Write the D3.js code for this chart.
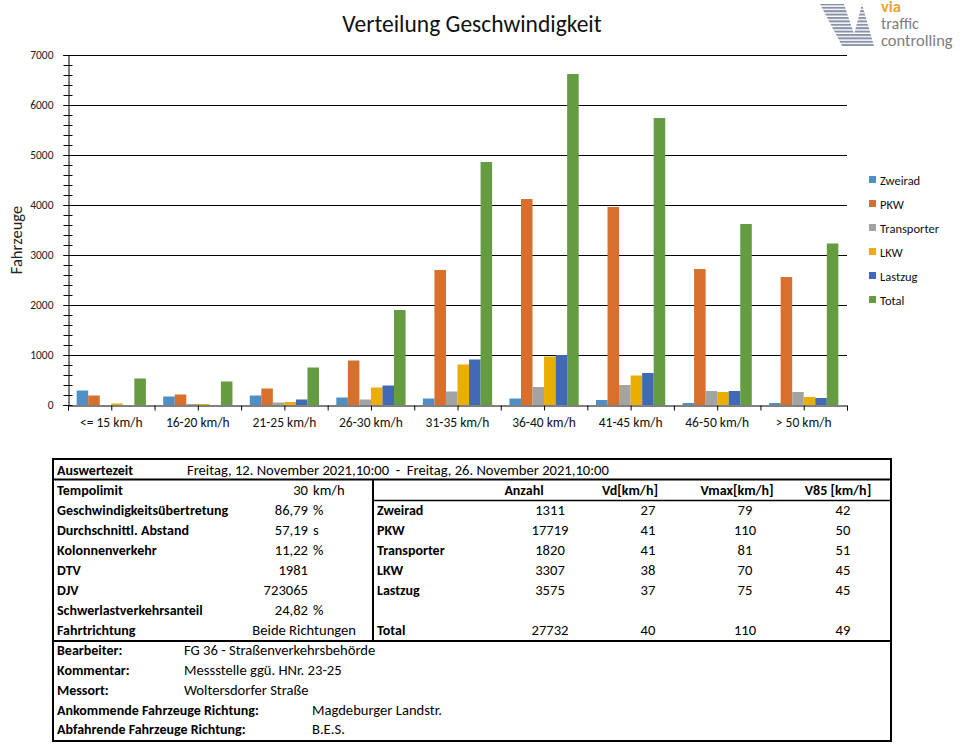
<!DOCTYPE html>
<html><head><meta charset="utf-8">
<script src="https://cdn.jsdelivr.net/npm/d3@7/dist/d3.min.js"></script>
<style>
body{margin:0;background:#fff}
svg text{font-family:Carlito,Lato,"Noto Sans",sans-serif;white-space:pre}
</style>
</head><body>
<svg id="c" width="968" height="749"></svg>
<script>
// ---------------- DATA ----------------
const categories = ["<= 15 km/h","16-20 km/h","21-25 km/h","26-30 km/h","31-35 km/h","36-40 km/h","41-45 km/h","46-50 km/h","> 50 km/h"];
const seriesNames = ["Zweirad","PKW","Transporter","LKW","Lastzug","Total"];
const zweirad     = [290,170,190,150,130,130,100,40,40];
const pkw         = [190,210,330,890,2700,4120,3960,2720,2560];
const transporter = [0,20,50,110,270,360,400,280,260];
const lkw         = [30,20,60,350,810,970,590,260,160];
const lastzug     = [0,0,110,390,910,1000,640,280,140];
const total       = [530,470,750,1900,4860,6620,5740,3620,3230];
const yTickValues = [0,1000,2000,3000,4000,5000,6000,7000];
const seriesColors = ["#4f8fc6","#d8702d","#a3a3a3","#e9ae00","#4169b6","#659c41"];

const chartTitle = "Verteilung Geschwindigkeit";
const yAxisTitle = "Fahrzeuge";

const periodLabel = "Auswertezeit";
const periodText = "Freitag, 12. November 2021,10:00  -  Freitag, 26. November 2021,10:00";
const infoLabels = ["Tempolimit","Geschwindigkeitsübertretung","Durchschnittl. Abstand","Kolonnenverkehr","DTV","DJV","Schwerlastverkehrsanteil","Fahrtrichtung"];
const infoValues = ["30","86,79","57,19","11,22","1981","723065","24,82","Beide Richtungen"];
const infoUnits  = ["km/h","%","s","%","","","%",""];
const statHeaders = ["Anzahl","Vd[km/h]","Vmax[km/h]","V85 [km/h]"];
const statRows   = ["Zweirad","PKW","Transporter","LKW","Lastzug","","Total"];
const statAnzahl = ["1311","17719","1820","3307","3575","","27732"];
const statVd     = ["27","41","41","38","37","","40"];
const statVmax   = ["79","110","81","70","75","","110"];
const statV85    = ["42","50","51","45","45","","49"];
const footLabels = ["Bearbeiter:","Kommentar:","Messort:","Ankommende Fahrzeuge Richtung:","Abfahrende Fahrzeuge Richtung:"];
const footValues = ["FG 36 - Straßenverkehrsbehörde","Messstelle ggü. HNr. 23-25","Woltersdorfer Straße","Magdeburger Landstr.","B.E.S."];

// ---------------- CHART ----------------
const svg = d3.select("#c");
svg.append("rect").attr("width",968).attr("height",749).attr("fill","#fff");

const seriesData = [zweirad,pkw,transporter,lkw,lastzug,total];
const L = 68, R = 847, T = 55, B = 405;

const x0 = d3.scaleBand().domain(categories).range([L,R]).padding(0);
const x1 = d3.scaleBand().domain(seriesNames).range([x0.bandwidth()*0.1, x0.bandwidth()*0.9]).padding(0);
const y = d3.scaleLinear().domain([0,7000]).range([B,T]);

svg.append("text").attr("x",472).attr("y",32).attr("text-anchor","middle")
  .attr("font-size",23.5).attr("fill","#111").text(chartTitle);

// gridlines
svg.append("g").selectAll("line").data(yTickValues.filter(d=>d>0)).join("line")
  .attr("x1",L).attr("x2",R).attr("y1",d=>Math.round(y(d))+0.5).attr("y2",d=>Math.round(y(d))+0.5)
  .attr("stroke","#000").attr("stroke-width",1.2);

// bars
const groups = svg.append("g").selectAll("g").data(categories).join("g")
  .attr("transform",c=>`translate(${x0(c)},0)`);
groups.selectAll("rect").data((c,i)=>seriesNames.map((s,j)=>({s,v:seriesData[j][i],j}))).join("rect")
  .attr("x",d=>x1(d.s)).attr("width",x1.bandwidth())
  .attr("y",d=>y(d.v)).attr("height",d=>B-y(d.v))
  .attr("fill",d=>seriesColors[d.j]);

// y axis
const yAxis = d3.axisLeft(y).tickValues(yTickValues).tickSize(5).tickPadding(10).tickFormat(d3.format("d"));
const gy = svg.append("g").attr("transform",`translate(${L+0.5},0)`).call(yAxis);
gy.select(".domain").attr("stroke","#000");
gy.selectAll("text").attr("font-family","'Liberation Sans', Arial, sans-serif").attr("font-size",11.5).attr("fill","#222");
const yMinor = d3.axisRight(y).tickValues(d3.range(0,7001,200)).tickSize(4).tickFormat("");
const gym = svg.append("g").attr("transform",`translate(${L+0.5},0)`).call(yMinor);
gym.select(".domain").remove();
const yMinorL = d3.axisLeft(y).tickValues(d3.range(0,7001,200)).tickSize(5).tickFormat("");
const gyl = svg.append("g").attr("transform",`translate(${L+0.5},0)`).call(yMinorL);
gyl.select(".domain").remove();

svg.append("text").attr("transform","translate(22,240) rotate(-90)").attr("text-anchor","middle")
  .attr("font-family","'Liberation Sans', Arial, sans-serif").attr("font-size",16.5).attr("fill","#222").text(yAxisTitle);

// x axis
const xTickScale = d3.scaleLinear().domain([0,categories.length]).range([L,R]);
const xAxis = d3.axisBottom(xTickScale).tickValues(d3.range(0,categories.length+0.01,0.5)).tickSize(5).tickFormat("");
const gx = svg.append("g").attr("transform",`translate(0,${B+0.5})`).call(xAxis);
gx.select(".domain").attr("stroke","#000");
svg.append("g").selectAll("text").data(categories).join("text")
  .attr("x",c=>x0(c)+x0.bandwidth()/2).attr("y",427).attr("text-anchor","middle")
  .attr("font-size",13.5).attr("fill","#111").text(c=>c);

// legend
const lg = svg.append("g").selectAll("g").data(seriesNames).join("g")
  .attr("transform",(d,i)=>`translate(869,${180+i*24})`);
lg.append("rect").attr("x",0).attr("y",-4).attr("width",7).attr("height",7).attr("fill",(d,i)=>seriesColors[i]);
lg.append("text").attr("x",11).attr("y",4.5).attr("font-size",12.5).attr("fill","#111").text(d=>d);

// logo
const defs = svg.append("defs");
const pat = defs.append("pattern").attr("id","stripes").attr("patternUnits","userSpaceOnUse").attr("width",10).attr("height",3.4);
pat.append("rect").attr("width",10).attr("height",2).attr("fill","#8791a8");
const clip = defs.append("clipPath").attr("id","logoClip");
clip.append("polygon").attr("points","820,4 844,4 858,46 842,46");
clip.append("polygon").attr("points","862,4 874,46 851,46");
svg.append("rect").attr("x",818).attr("y",3).attr("width",60).attr("height",45).attr("fill","url(#stripes)").attr("clip-path","url(#logoClip)");
svg.append("text").attr("x",881).attr("y",12).attr("font-size",16.5).attr("font-weight","bold").attr("fill","#f0a02c").text("via");
svg.append("text").attr("x",881).attr("y",29).attr("font-size",16).attr("fill","#7d7d7d").text("traffic");
svg.append("text").attr("x",881).attr("y",46).attr("font-size",16.5).attr("fill","#7d7d7d").text("controlling");

// ---------------- TABLE ----------------
const tb = svg.append("g");
const TL = 53, TR = 891, TT = 459, TB = 741, MID = 373;
const line = (x1_,y1_,x2_,y2_,w)=>tb.append("line").attr("x1",x1_).attr("y1",y1_).attr("x2",x2_).attr("y2",y2_).attr("stroke","#000").attr("stroke-width",w);
tb.append("rect").attr("x",TL).attr("y",TT).attr("width",TR-TL).attr("height",TB-TT).attr("fill","none").attr("stroke","#000").attr("stroke-width",2);
line(TL,479.5,TR,479.5,2);
line(MID,479.5,MID,641,2);
line(MID,500.5,TR,500.5,1.5);
line(TL,641,TR,641,2);

const fsR = 14.6, fsB = 14;
const txt = (xx,yy,s,opt={})=>tb.append("text").attr("x",xx).attr("y",yy).attr("font-size",opt.bold?fsB:fsR)
  .attr("font-weight",opt.bold?"bold":"normal").attr("text-anchor",opt.anchor||"start").attr("fill","#000").text(s);

txt(57,475,periodLabel,{bold:true});
txt(187,475,periodText);

infoLabels.forEach((l,i)=>{
  const yy = 495 + i*20;
  txt(57,yy,l,{bold:true});
  if(infoUnits[i]==="" && i===7) txt(356,yy,infoValues[i],{anchor:"end"});
  else txt(308,yy,infoValues[i],{anchor:"end"});
  if(infoUnits[i]) txt(313,yy,infoUnits[i]);
});

const colX = [550,648,745,843];
const hdrX = [524,630,737,838];
statHeaders.forEach((h,i)=>txt(hdrX[i],495,h,{bold:true,anchor:"middle"}));
const statCols = [statAnzahl,statVd,statVmax,statV85];
statRows.forEach((r,i)=>{
  const yy = 515 + i*20;
  txt(377,yy,r,{bold:true});
  statCols.forEach((col,k)=>txt(colX[k],yy,col[i],{anchor:"middle"}));
});

const footValX = [184,184,184,312,312];
footLabels.forEach((l,i)=>{
  const yy = 655 + i*20 - (i===4?1:0);
  txt(57,yy,l,{bold:true});
  txt(footValX[i],yy,footValues[i]);
});
</script>
</body></html>
